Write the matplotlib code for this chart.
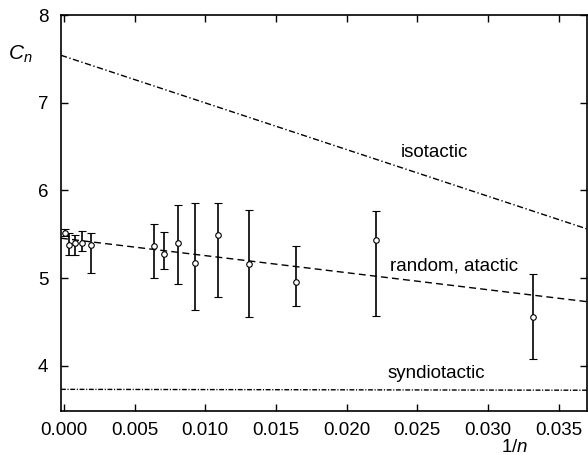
import matplotlib
matplotlib.use("Agg")
import matplotlib.pyplot as plt

plt.rcParams["font.family"] = ["Liberation Sans", "DejaVu Sans"]
plt.rcParams["mathtext.fontset"] = "custom"
plt.rcParams["mathtext.rm"] = "Liberation Sans"
plt.rcParams["mathtext.it"] = "Liberation Sans:italic"

# Measured characteristic ratios C_n versus inverse chain length 1/n
inv_n = [0.0001, 0.0004, 0.0008, 0.0013, 0.0019, 0.0064, 0.0071, 0.0081,
         0.0093, 0.0109, 0.0131, 0.0164, 0.0221, 0.0332]
c_n = [5.51, 5.38, 5.40, 5.40, 5.38, 5.36, 5.27, 5.40,
       5.17, 5.49, 5.16, 4.96, 5.43, 4.55]
c_low = [5.48, 5.26, 5.26, 5.31, 5.055, 5.005, 5.10, 4.93,
         4.64, 4.78, 4.55, 4.68, 4.57, 4.08]
c_high = [5.556, 5.51, 5.49, 5.54, 5.51, 5.62, 5.53, 5.83,
          5.86, 5.86, 5.78, 5.37, 5.77, 5.05]

# Model predictions: C_n at 1/n = 0 and 1/n = 0.037 for each tacticity
model_x = [0.0, 0.037]
isotactic_c = [7.53, 5.56]
atactic_c = [5.45, 4.73]
syndiotactic_c = [3.73, 3.72]

x_ticks = [0.000, 0.005, 0.010, 0.015, 0.020, 0.025, 0.030, 0.035]
y_ticks = [4, 5, 6, 7, 8]

fig = plt.figure(figsize=(5.88, 4.55), dpi=100)
ax = fig.add_axes([0.1037, 0.0967, 0.8946, 0.8703])

ax.axline((model_x[0], isotactic_c[0]), (model_x[1], isotactic_c[1]),
          color="black", lw=1.0, linestyle=(0, (4.5, 1.8, 1.0, 1.8)))
ax.axline((model_x[0], atactic_c[0]), (model_x[1], atactic_c[1]),
          color="black", lw=1.0, linestyle=(0, (5, 3)))
ax.axline((model_x[0], syndiotactic_c[0]), (model_x[1], syndiotactic_c[1]),
          color="black", lw=1.0, linestyle=(0, (3.5, 1.2, 0.8, 1.2)))

yerr = [[c - lo for c, lo in zip(c_n, c_low)],
        [hi - c for c, hi in zip(c_n, c_high)]]
ax.errorbar(inv_n, c_n, yerr=yerr, fmt="o", color="black", ecolor="black",
            elinewidth=1.2, capsize=2.8, capthick=1.2, markersize=4,
            markerfacecolor="white", markeredgecolor="black",
            markeredgewidth=0.8, zorder=3)

ax.text(0.0238, 6.43, "isotactic", fontsize=13.5, va="center", ha="left")
ax.text(0.0231, 5.14, "random, atactic", fontsize=13.5, va="center", ha="left")
ax.text(0.0229, 3.86, "syndiotactic", fontsize=13.5, va="baseline", ha="left")

ax.set_xlim(-0.0002, 0.0370)
ax.set_ylim(3.483, 8.0)
ax.set_xticks(x_ticks)
ax.set_xticklabels([f"{v:.3f}" for v in x_ticks])
ax.set_yticks(y_ticks)
ax.set_yticklabels([str(v) for v in y_ticks])

ax.tick_params(axis="both", direction="in", length=5, width=1.0,
               top=True, right=True, labelsize=13.5)
ax.tick_params(axis="x", pad=8)
ax.tick_params(axis="y", pad=9)
for spine in ax.spines.values():
    spine.set_linewidth(1.2)

fig.text(20 / 588, 1 - 54 / 455, "$C_n$", fontsize=15, ha="center", va="center")
fig.text(515 / 588, 1 - 448 / 455, "$1/n$", fontsize=13.5, ha="center", va="center")

fig.savefig("out.png", dpi=100)
